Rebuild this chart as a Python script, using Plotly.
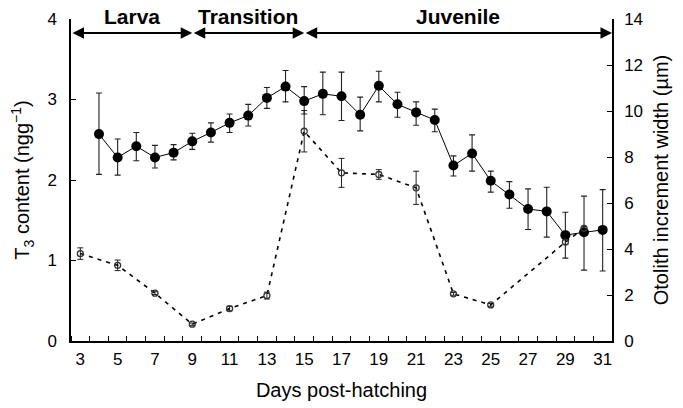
import plotly.graph_objects as go

# ---- data ----
t3_days = list(range(4, 32))
t3_vals = [2.57, 2.28, 2.42, 2.28, 2.34, 2.48, 2.59, 2.71, 2.80, 3.02, 3.16, 2.98,
           3.07, 3.04, 2.81, 3.17, 2.94, 2.84, 2.745, 2.18, 2.33, 1.99, 1.82, 1.64,
           1.61, 1.315, 1.35, 1.38]
t3_err_up = [0.51, 0.23, 0.17, 0.15, 0.10, 0.10, 0.12, 0.11, 0.14, 0.13, 0.20, 0.18,
             0.27, 0.30, 0.22, 0.18, 0.15, 0.13, 0.135, 0.12, 0.23, 0.12, 0.16, 0.25,
             0.30, 0.285, 0.45, 0.50]
t3_err_dn = [0.50, 0.22, 0.18, 0.13, 0.09, 0.10, 0.12, 0.12, 0.13, 0.13, 0.19, 0.16,
             0.26, 0.30, 0.20, 0.20, 0.16, 0.16, 0.145, 0.13, 0.22, 0.14, 0.17, 0.255,
             0.32, 0.285, 0.47, 0.51]

oto_days = [3, 5, 7, 9, 11, 13, 15, 17, 19, 21, 23, 25, 29, 30]
oto_vals = [3.80, 3.29, 2.08, 0.73, 1.41, 1.975, 9.12, 7.31, 7.24, 6.66, 2.05, 1.57, 4.30, 4.90]
oto_err = [0.25, 0.23, 0.06, 0.05, 0.10, 0.15, 0.90, 0.63, 0.21, 0.72, 0.06, 0.06, 0.10, 0.08]

x_ticks = list(range(3, 32, 2))
phases = [("Larva", 2.5, 9), ("Transition", 9, 15), ("Juvenile", 15, 31.5)]

FONT = "Liberation Sans, Arial, Helvetica, sans-serif"

fig = go.Figure()

fig.add_trace(go.Scatter(
    x=oto_days, y=oto_vals, yaxis="y2", mode="lines+markers",
    line=dict(color="black", width=1.6, dash="4px,5px"),
    marker=dict(symbol="circle-open", size=6, color="#333", line=dict(width=1.3)),
    error_y=dict(type="data", symmetric=True, array=oto_err, color="#222",
                 thickness=1, width=3),
    showlegend=False))

fig.add_trace(go.Scatter(
    x=t3_days, y=t3_vals, mode="lines+markers",
    line=dict(color="black", width=1),
    marker=dict(symbol="circle", size=10, color="black"),
    error_y=dict(type="data", symmetric=False, array=t3_err_up, arrayminus=t3_err_dn,
                 color="#222", thickness=1.1, width=3),
    showlegend=False))

for name, a, b in phases:
    fig.add_annotation(x=b, y=0.9565, ax=a, ay=0.9565, xref="x", yref="y domain",
                       axref="x", ayref="y domain", text="", showarrow=True,
                       arrowhead=2, startarrowhead=2, arrowside="end+start",
                       arrowsize=1.15, arrowwidth=2, arrowcolor="black",
                       standoff=0, startstandoff=0)
    fig.add_annotation(x=(a + b) / 2, y=1.009, xref="x", yref="paper", text=f"<b>{name}</b>",
                       showarrow=False, font=dict(size=21, color="black", family=FONT),
                       yanchor="middle")

fig.update_layout(
    width=683, height=408,
    margin=dict(l=71, r=71, t=19, b=67),
    paper_bgcolor="white", plot_bgcolor="white",
    font=dict(family=FONT, color="black", size=17),
    xaxis=dict(range=[2.5, 31.5], tickvals=x_ticks, ticks="", showgrid=False,
               zeroline=False, showline=True, linecolor="black", linewidth=1.5,
               ticklabelstandoff=2, automargin=False,
               minor=dict(ticks="inside", ticklen=5, tick0=3.5, dtick=1,
                          tickcolor="black", tickwidth=1.2, showgrid=False),
               title=dict(text="Days post-hatching", font=dict(size=20), standoff=15)),
    yaxis=dict(range=[0, 4], tickvals=[0, 1, 2, 3, 4], ticks="inside", ticklen=5,
               tickwidth=1.3, tickcolor="black", showgrid=False, zeroline=False,
               showline=True, linecolor="black", linewidth=1.5, ticklabelstandoff=9,
               automargin=False,
               title=dict(text="T<sub>3</sub> content (ngg<sup>−1</sup>)",
                          font=dict(size=20), standoff=12)),
    yaxis2=dict(range=[0, 14], tickvals=list(range(0, 15, 2)), overlaying="y", side="right",
                ticks="inside", ticklen=5, tickwidth=1.3, tickcolor="black",
                showgrid=False, zeroline=False, showline=True, linecolor="black",
                linewidth=1.5, ticklabelstandoff=7, automargin=False,
                title=dict(text="Otolith increment width (µm)", font=dict(size=20),
                           standoff=12)),
)

fig.write_html("out.html")
